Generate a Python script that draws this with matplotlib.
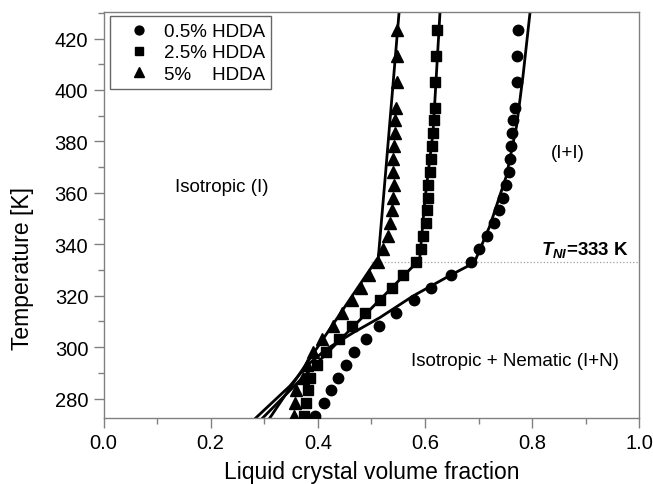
import numpy as np
import matplotlib
matplotlib.use("Agg")
import matplotlib.pyplot as plt
from matplotlib.ticker import MultipleLocator

plt.rcParams['font.family'] = ['Liberation Sans', 'DejaVu Sans']
plt.rcParams['mathtext.fontset'] = 'custom'
plt.rcParams['mathtext.it'] = 'Liberation Sans:italic:bold'
plt.rcParams['mathtext.rm'] = 'Liberation Sans:bold'

# measured temperatures (K): 0..120 C in 5 C steps, then 130, 140, 150 C
temp = np.array([273.15, 278.15, 283.15, 288.15, 293.15, 298.15, 303.15, 308.15,
                 313.15, 318.15, 323.15, 328.15, 333.15, 338.15, 343.15, 348.15,
                 353.15, 358.15, 363.15, 368.15, 373.15, 378.15, 383.15, 388.15,
                 393.15, 403.15, 413.15, 423.15])

# liquid crystal volume fraction of the binodal, per HDDA content
phi_05 = [0.395, 0.411, 0.424, 0.437, 0.452, 0.468, 0.490, 0.514, 0.545, 0.580,
          0.612, 0.648, 0.686, 0.700, 0.716, 0.728, 0.738, 0.746, 0.752, 0.756,
          0.758, 0.761, 0.763, 0.765, 0.768, 0.771, 0.771, 0.774]
phi_25 = [0.374, 0.378, 0.381, 0.385, 0.398, 0.416, 0.440, 0.463, 0.488, 0.516,
          0.539, 0.559, 0.584, 0.592, 0.597, 0.601, 0.603, 0.605, 0.606, 0.609,
          0.612, 0.614, 0.615, 0.617, 0.618, 0.618, 0.621, 0.622]
phi_5 = [0.356, 0.357, 0.360, 0.372, 0.380, 0.391, 0.407, 0.428, 0.446, 0.463,
         0.481, 0.496, 0.512, 0.521, 0.531, 0.535, 0.538, 0.540, 0.543, 0.541,
         0.540, 0.542, 0.544, 0.544, 0.545, 0.547, 0.547, 0.548]

# model curves (phi, T)
fit_05_phi = [0.282, 0.285, 0.348, 0.379, 0.416, 0.466, 0.516, 0.578, 0.648, 0.692,
              0.721, 0.752, 0.771, 0.783, 0.796]
fit_05_T = [272.0, 272.6, 284.9, 292.7, 299.2, 305.6, 311.5, 319.9, 328.0, 332.8,
            347.1, 366.6, 386.0, 405.5, 430.0]
fit_25_phi = [0.295, 0.590, 0.600, 0.615, 0.628]
fit_25_T = [272.0, 334.0, 357.5, 383.4, 430.0]
fit_5_phi = [0.309, 0.513, 0.527, 0.552]
fit_5_T = [272.0, 335.0, 369.0, 431.0]

T_NI = 333
labels = ['0.5% HDDA', '2.5% HDDA', '5%    HDDA']

spine_col = '#808080'

fig = plt.figure(figsize=(6.53, 4.85), dpi=100)
ax = fig.add_axes([0.1585, 0.137, 0.8205, 0.8356])

ax.axhline(T_NI, xmin=0.50, xmax=1.0, color='#a0a0a0', ls=':', lw=0.9, zorder=1)

ax.plot(fit_05_phi, fit_05_T, color='black', lw=2.0, zorder=2)
ax.plot(fit_25_phi, fit_25_T, color='black', lw=2.0, zorder=2)
ax.plot(fit_5_phi, fit_5_T, color='black', lw=2.0, zorder=2)

ax.plot(phi_05, temp, 'o', color='black', ms=7.5, ls='none', label=labels[0], zorder=3)
ax.plot(phi_25, temp, 's', color='black', ms=6.5, ls='none', label=labels[1], zorder=3)
ax.plot(phi_5, temp, '^', color='black', ms=8, ls='none', label=labels[2], zorder=3)

ax.set_xlim(0, 1.0)
ax.set_ylim(272.6, 430.2)
ax.xaxis.set_major_locator(MultipleLocator(0.2))
ax.xaxis.set_minor_locator(MultipleLocator(0.1))
ax.yaxis.set_major_locator(MultipleLocator(20))
ax.yaxis.set_minor_locator(MultipleLocator(10))
ax.set_xticks(np.arange(0, 1.01, 0.2))
ax.set_xticklabels(['0.0', '0.2', '0.4', '0.6', '0.8', '1.0'])

for sp in ax.spines.values():
    sp.set_color(spine_col)
    sp.set_linewidth(1.0)
ax.tick_params(which='both', direction='out', color=spine_col, width=1.0,
               labelsize=14.5, top=False, right=False)
ax.tick_params(which='major', length=7, pad=4)
ax.tick_params(which='minor', length=4)

ax.set_xlabel('Liquid crystal volume fraction', fontsize=16.5)
ax.set_ylabel('Temperature [K]', fontsize=16.5)
ax.xaxis.set_label_coords(0.5, -0.105)
ax.yaxis.set_label_coords(-0.1306, 0.37)

ax.text(0.221, 362.3, 'Isotropic (I)', fontsize=13.5, ha='center', va='center')
ax.text(0.867, 375.5, '(I+I)', fontsize=13.5, ha='center', va='center')
ax.text(0.767, 294.6, 'Isotropic + Nematic (I+N)', fontsize=13.5, ha='center', va='center')
ax.text(0.98, 334.2, r'$T_{NI}$=333 K', fontsize=13.5, fontweight='bold',
        ha='right', va='bottom')

leg = ax.legend(loc='upper left', bbox_to_anchor=(0.012, 0.99), borderaxespad=0,
                fontsize=13.5, frameon=True, fancybox=False, edgecolor='#404040',
                handlelength=2.4, handletextpad=0.1, borderpad=0.36,
                labelspacing=0.22, markerscale=0.85)
leg.get_frame().set_linewidth(1.0)

fig.savefig('out.png', dpi=100)
